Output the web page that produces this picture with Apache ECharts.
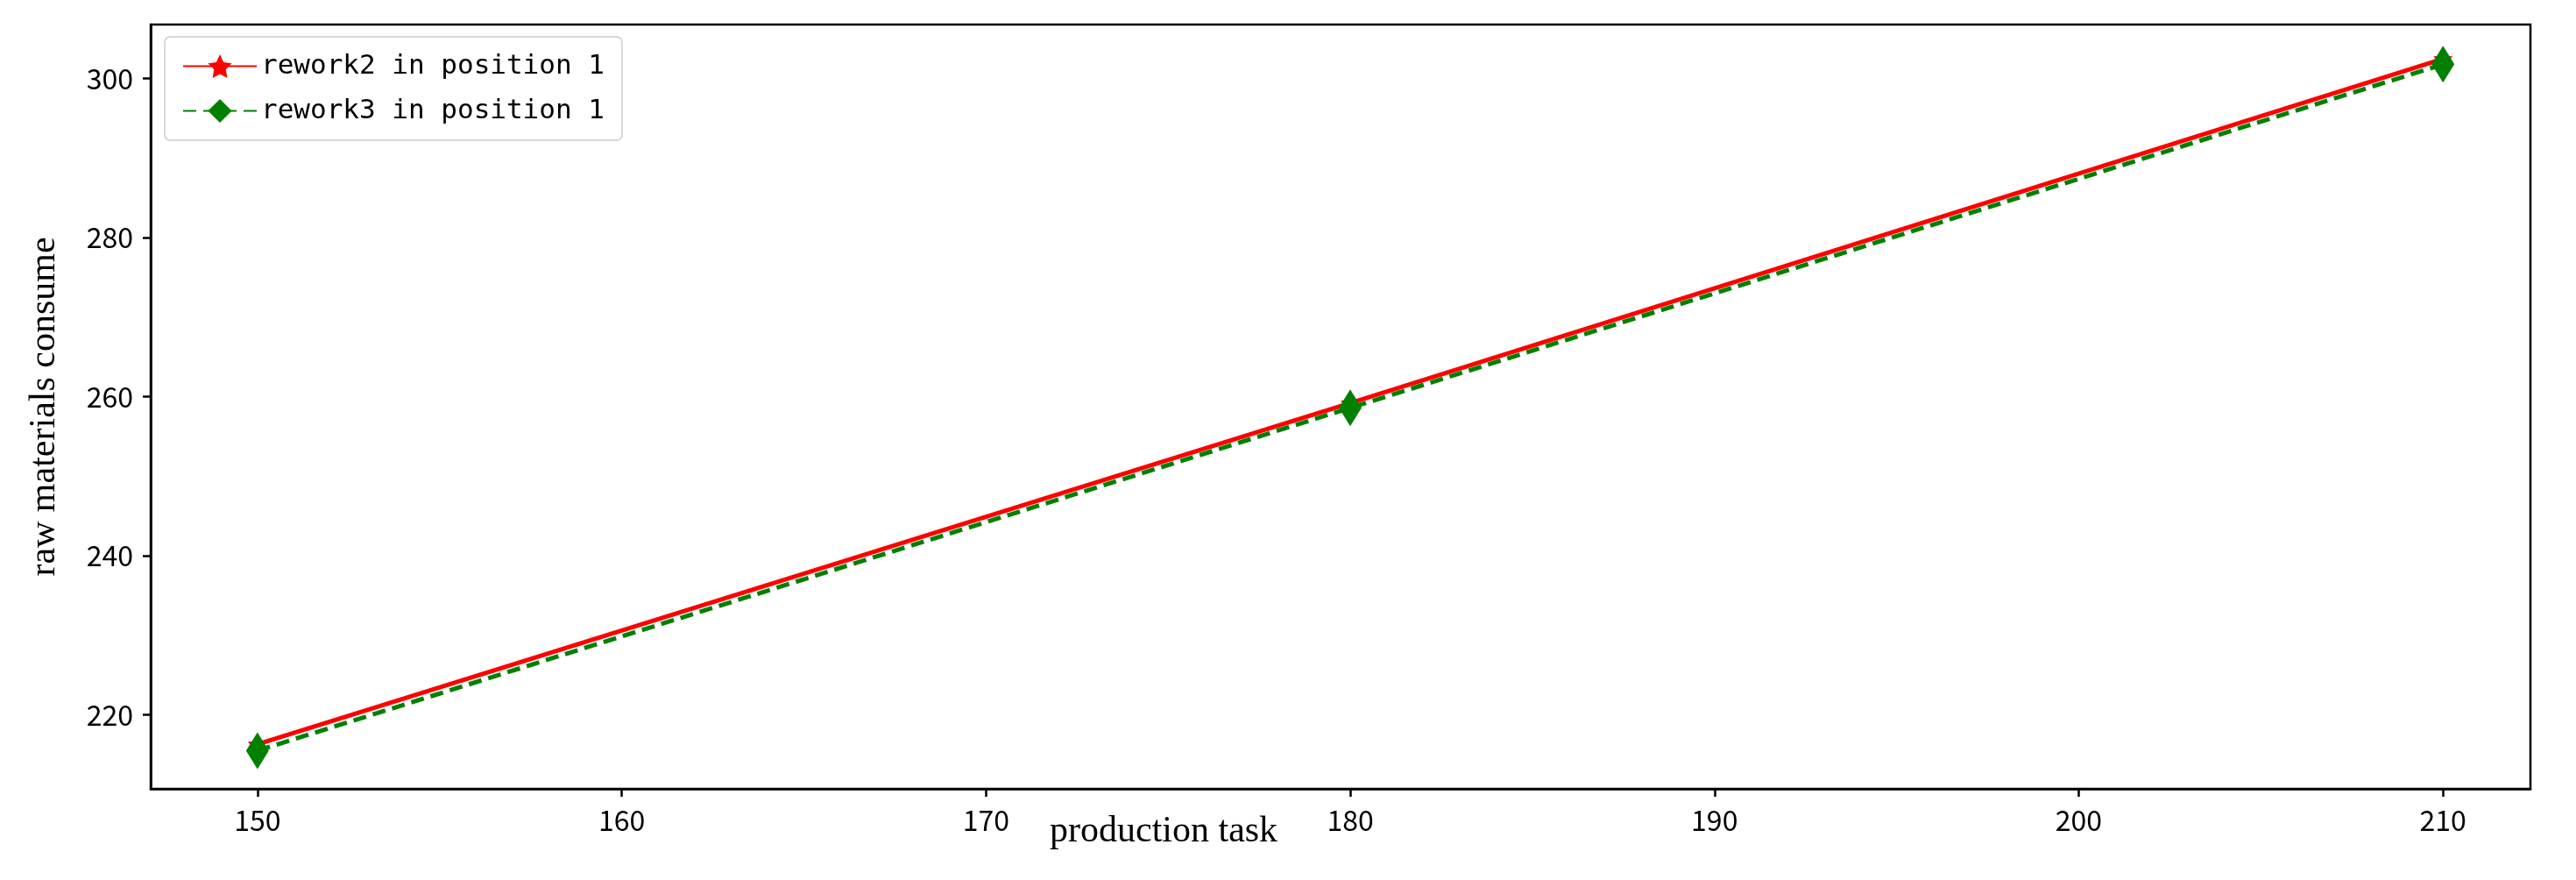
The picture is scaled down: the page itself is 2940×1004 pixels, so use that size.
<!DOCTYPE html>
<html>
<head>
<meta charset="utf-8">
<script src="https://cdn.jsdelivr.net/npm/echarts@6/dist/echarts.min.js"></script>
<style>html,body{margin:0;padding:0;background:#fff}#chart{width:2940px;height:1004px}</style>
</head>
<body>
<div id="chart"></div>
<script>
const tasks = [150, 180, 210];
const rework2 = [216.3, 259.2, 302.5];
const rework3 = [215.5, 258.6, 301.8];
const xTicks = [150, 160, 170, 180, 190, 200, 210];
const yTicks = [220, 240, 260, 280, 300];

const tickFont = { fontFamily: '"Noto Sans CJK SC"', fontSize: 32, color: '#000' };

const chart = echarts.init(document.getElementById('chart'));
chart.setOption({
  animation: false,
  grid: { left: 172, right: 52, top: 28, bottom: 104, show: true, borderColor: '#000', borderWidth: 2.5, backgroundColor: 'transparent' },
  legend: {
    left: 188, top: 42, orient: 'vertical', itemGap: 20, itemWidth: 84, itemHeight: 34,
    backgroundColor: '#fff', borderColor: '#ccc', borderWidth: 1.5, borderRadius: 6, padding: [18, 20],
    textStyle: { fontFamily: '"DejaVu Sans Mono"', fontSize: 31, color: '#000' },
    data: ['rework2 in position 1', 'rework3 in position 1']
  },
  xAxis: {
    type: 'value', min: 147.07, max: 212.4,
    axisLine: { show: true, lineStyle: { color: '#000', width: 2.5 } },
    axisTick: { show: true, length: 9, lineStyle: { color: '#000', width: 2.5 }, customValues: xTicks },
    axisLabel: Object.assign({ margin: 20, customValues: xTicks }, tickFont),
    splitLine: { show: false }
  },
  yAxis: {
    type: 'value', min: 210.7, max: 306.8,
    name: 'raw materials consume', nameLocation: 'middle', nameGap: 100,
    nameTextStyle: { fontFamily: '"Liberation Serif"', fontSize: 42, color: '#000' },
    axisLine: { show: true, lineStyle: { color: '#000', width: 2.5 } },
    axisTick: { show: true, length: 9, lineStyle: { color: '#000', width: 2.5 }, customValues: yTicks },
    axisLabel: Object.assign({ margin: 20, customValues: yTicks }, tickFont),
    splitLine: { show: false }
  },
  graphic: [{
    type: 'text', left: 1198, top: 928,
    style: { text: 'production task', font: '42px "Liberation Serif"', fill: '#000' }
  }],
  series: [
    {
      name: 'rework2 in position 1', type: 'line',
      data: tasks.map((t, i) => [t, rework2[i]]),
      symbol: 'path://M0,-10 L2.9,-4 9.5,-3.1 4.7,1.5 5.9,8.1 0,5 -5.9,8.1 -4.7,1.5 -9.5,-3.1 -2.9,-4 Z',
      symbolSize: 22, showAllSymbol: true,
      lineStyle: { color: '#ff0000', width: 5 }, itemStyle: { color: '#ff0000' }, z: 2
    },
    {
      name: 'rework3 in position 1', type: 'line',
      data: tasks.map((t, i) => [t, rework3[i]]),
      symbol: 'diamond', symbolSize: [26, 42],
      lineStyle: { color: '#008000', width: 5, type: [15, 8] }, itemStyle: { color: '#008000' }, z: 3
    }
  ]
});
</script>
</body>
</html>
